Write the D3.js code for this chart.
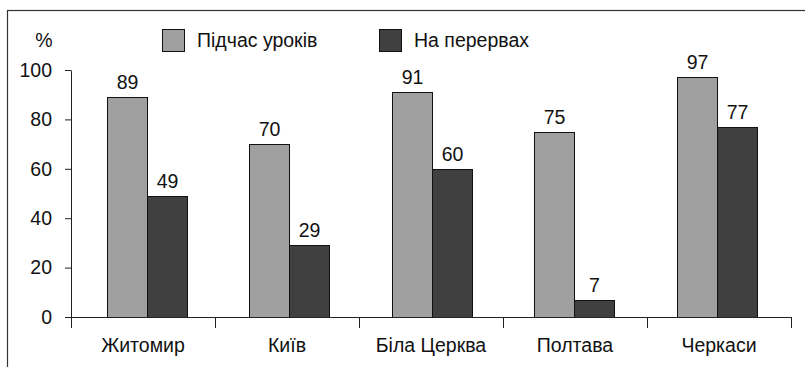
<!DOCTYPE html>
<html>
<head>
<meta charset="utf-8">
<script src="https://cdn.jsdelivr.net/npm/d3@7/dist/d3.min.js"></script>
<style>
  html, body { margin: 0; padding: 0; background: #fff; }
  svg { display: block; }
  text { font-family: "Liberation Sans", Arial, sans-serif; fill: #111; }
</style>
</head>
<body>
<svg id="chart" width="805" height="367"></svg>
<script>
// Cities surveyed
const cities = ["Житомир", "Київ", "Біла Церква", "Полтава", "Черкаси"];
// Share of respondents, %
const duringLessons = [89, 70, 91, 75, 97];
const duringBreaks = [49, 29, 60, 7, 77];
const seriesNames = ["Підчас уроків", "На перервах"];
const yTicks = [0, 20, 40, 60, 80, 100];

const colors = ["#a0a0a0", "#404040"];
const fontSize = 19.5;
const svg = d3.select("#chart");

// outer frame
svg.append("rect")
  .attr("x", 7.5).attr("y", 10.5)
  .attr("width", 900).attr("height", 500)
  .attr("fill", "none").attr("stroke", "#333").attr("stroke-width", 1.2);

const y = d3.scaleLinear().domain([0, 100]).range([317, 70]);
// category slots on the axis
const x = d3.scaleBand().domain(cities).range([71, 791]);
// centres of each pair of bars
const xc = d3.scalePoint().domain(cities).range([146.5, 717]);
const inner = d3.scaleBand().domain([0, 1]).range([-40, 40]);

// y axis
const yAxis = svg.append("g")
  .attr("transform", "translate(71,0)")
  .call(d3.axisLeft(y).tickValues(yTicks).tickSize(6).tickPadding(13).tickSizeOuter(0));
yAxis.select(".domain").attr("stroke", "#222");
yAxis.selectAll(".tick line").attr("stroke", "#222");
yAxis.selectAll("text").attr("font-size", fontSize).style("font-family", "Liberation Sans, Arial, sans-serif").attr("fill", "#111");

// bars
const rows = cities.map((c, i) => [duringLessons[i], duringBreaks[i]]);
const groups = svg.append("g").selectAll("g")
  .data(cities)
  .join("g")
  .attr("transform", d => `translate(${Math.round(xc(d))},0)`);

groups.each(function(c, i) {
  const g = d3.select(this);
  rows[i].forEach((v, s) => {
    g.append("rect")
      .attr("x", inner(s) + 0.5)
      .attr("y", Math.round(y(v)) + 0.5)
      .attr("width", inner.bandwidth())
      .attr("height", Math.round(y(0)) - Math.round(y(v)))
      .attr("fill", colors[s])
      .attr("stroke", "#111")
      .attr("stroke-width", 1);
    g.append("text")
      .attr("x", inner(s) + inner.bandwidth() / 2 + 0.5)
      .attr("y", y(v) - 8)
      .attr("text-anchor", "middle")
      .attr("font-size", fontSize)
      .text(v);
  });
});

// x axis with category separators
const xAxis = svg.append("g").attr("transform", "translate(0,317)");
xAxis.append("line")
  .attr("x1", 65).attr("x2", 791.5).attr("y1", 0.5).attr("y2", 0.5)
  .attr("stroke", "#222");
const bounds = cities.map(c => x(c)).concat([x(cities[cities.length - 1]) + x.bandwidth()]);
xAxis.selectAll("line.sep")
  .data(bounds)
  .join("line")
  .attr("class", "sep")
  .attr("x1", d => Math.round(d) + 0.5).attr("x2", d => Math.round(d) + 0.5)
  .attr("y1", 0).attr("y2", 11)
  .attr("stroke", "#222");
xAxis.selectAll("text")
  .data(cities)
  .join("text")
  .attr("x", d => x(d) + x.bandwidth() / 2)
  .attr("y", 35)
  .attr("text-anchor", "middle")
  .attr("font-size", fontSize)
  .text(d => d);

// unit label
svg.append("text")
  .attr("x", 44).attr("y", 47)
  .attr("text-anchor", "middle")
  .attr("font-size", fontSize)
  .text("%");

// legend
const legendX = [162, 379];
seriesNames.forEach((name, s) => {
  svg.append("rect")
    .attr("x", legendX[s] + 0.5).attr("y", 29.5)
    .attr("width", 22).attr("height", 22)
    .attr("fill", colors[s]).attr("stroke", "#111");
  svg.append("text")
    .attr("x", legendX[s] + 35).attr("y", 47)
    .attr("font-size", fontSize)
    .text(name);
});
</script>
</body>
</html>
